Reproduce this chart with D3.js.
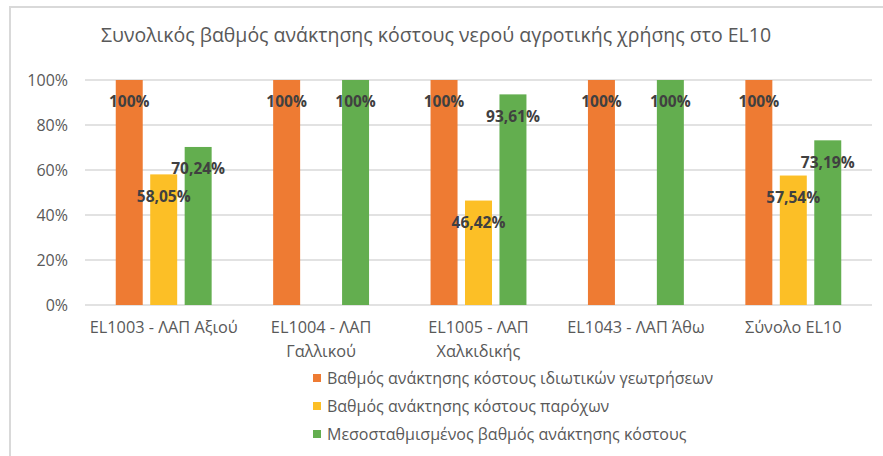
<!DOCTYPE html>
<html>
<head>
<meta charset="utf-8">
<script src="https://cdn.jsdelivr.net/npm/d3@7/dist/d3.min.js"></script>
<style>
  html, body { margin: 0; padding: 0; background: #fff; }
  svg { display: block; }
  text { font-family: "Open Sans", "Noto Sans", sans-serif; }
</style>
</head>
<body>
<svg id="chart" width="883" height="456"></svg>
<script>
// Water cost recovery rates per river basin district area
const title = "Συνολικός βαθμός ανάκτησης κόστους νερού αγροτικής χρήσης στο EL10";
const categories = [
  "EL1003 - ΛΑΠ Αξιού",
  "EL1004 - ΛΑΠ Γαλλικού",
  "EL1005 - ΛΑΠ Χαλκιδικής",
  "EL1043 - ΛΑΠ Άθω",
  "Σύνολο EL10"
];
const seriesNames = [
  "Βαθμός ανάκτησης κόστους ιδιωτικών γεωτρήσεων",
  "Βαθμός ανάκτησης κόστους παρόχων",
  "Μεσοσταθμισμένος βαθμός ανάκτησης κόστους"
];
const privateWells = [100, 100, 100, 100, 100];
const providers    = [58.05, null, 46.42, null, 57.54];
const weighted     = [70.24, 100, 93.61, 100, 73.19];
const yTicks = [0, 20, 40, 60, 80, 100];
const colors = ["#ee7b33", "#fcbf26", "#63ae4f"];

const seriesValues = [privateWells, providers, weighted];

const svg = d3.select("#chart");

// outer frame
svg.append("path")
  .attr("d", "M10,460 L10,7 L890,7")
  .attr("fill", "none")
  .attr("stroke", "#d9d9d9")
  .attr("stroke-width", 2);

// title
svg.append("text")
  .attr("x", 436).attr("y", 42)
  .attr("text-anchor", "middle")
  .attr("fill", "#595959")
  .style("font-size", "19.5px")
  .text(title);

const x0 = d3.scaleBand().domain(categories).range([85, 872]);
const groupPad = 30.75;
const x1 = d3.scaleBand()
  .domain(d3.range(seriesNames.length))
  .range([groupPad, x0.bandwidth() - groupPad])
  .paddingInner(0.217);
const y = d3.scaleLinear().domain([0, 100]).range([305, 80]);

// gridlines
svg.append("g")
  .selectAll("line")
  .data(yTicks)
  .join("line")
  .attr("x1", x0.range()[0]).attr("x2", x0.range()[1])
  .attr("y1", d => y(d)).attr("y2", d => y(d))
  .attr("stroke", "#d9d9d9")
  .attr("stroke-width", 1.3);

// y axis labels
const yAxis = d3.axisLeft(y).tickValues(yTicks).tickFormat(d => d + "%").tickSize(0).tickPadding(0);
const yg = svg.append("g").attr("transform", "translate(68,0)").call(yAxis);
yg.select(".domain").remove();
yg.selectAll("text")
  .attr("fill", "#595959")
  .style("font-size", "16px")
  .style("font-family", "'Open Sans', sans-serif");

// bars
const groups = svg.append("g")
  .selectAll("g")
  .data(categories)
  .join("g")
  .attr("transform", d => `translate(${x0(d)},0)`);

const fmt = v => (Number.isInteger(v) ? String(v) : v.toFixed(2).replace(".", ",")) + "%";

groups.each(function (cat, ci) {
  const g = d3.select(this);
  const rows = seriesValues
    .map((vals, si) => ({ si, v: vals[ci] }))
    .filter(d => d.v !== null);
  g.selectAll("rect")
    .data(rows)
    .join("rect")
    .attr("x", d => x1(d.si))
    .attr("width", x1.bandwidth())
    .attr("y", d => y(d.v))
    .attr("height", d => y(0) - y(d.v))
    .attr("fill", d => colors[d.si]);
});

// data labels drawn above all bars
groups.each(function (cat, ci) {
  const g = d3.select(this);
  const rows = seriesValues
    .map((vals, si) => ({ si, v: vals[ci] }))
    .filter(d => d.v !== null);
  g.selectAll("text.lbl")
    .data(rows)
    .join("text")
    .attr("class", "lbl")
    .attr("x", d => x1(d.si) + x1.bandwidth() / 2)
    .attr("y", d => y(d.v) + 22)
    .attr("dy", "0.35em")
    .attr("text-anchor", "middle")
    .attr("fill", "#404040")
    .style("font-weight", "bold")
    .style("font-size", "15.5px")
    .text(d => fmt(d.v));
});

// x axis category labels, wrapped to band width
const xg = svg.append("g");
categories.forEach(cat => {
  const cx = x0(cat) + x0.bandwidth() / 2;
  const t = xg.append("text")
    .attr("x", cx)
    .attr("y", 333)
    .attr("text-anchor", "middle")
    .attr("fill", "#595959")
    .style("font-size", "16.3px");
  const words = cat.split(" ");
  let line = [];
  let tspan = t.append("tspan").attr("x", cx).attr("dy", 0);
  words.forEach(w => {
    line.push(w);
    tspan.text(line.join(" "));
    if (tspan.node().getComputedTextLength() > x0.bandwidth() - 2 && line.length > 1) {
      line.pop();
      tspan.text(line.join(" "));
      line = [w];
      tspan = t.append("tspan")
        .attr("x", cx)
        .attr("dy", 24)
        .text(w);
    }
  });
});

// legend
const legend = svg.append("g");
seriesNames.forEach((name, i) => {
  const ly = 378 + i * 28;
  legend.append("rect")
    .attr("x", 313).attr("y", ly - 4)
    .attr("width", 8).attr("height", 8)
    .attr("fill", colors[i]);
  legend.append("text")
    .attr("x", 327).attr("y", ly)
    .attr("dy", "0.35em")
    .attr("fill", "#595959")
    .style("font-size", "16px")
    .text(name);
});
</script>
</body>
</html>
